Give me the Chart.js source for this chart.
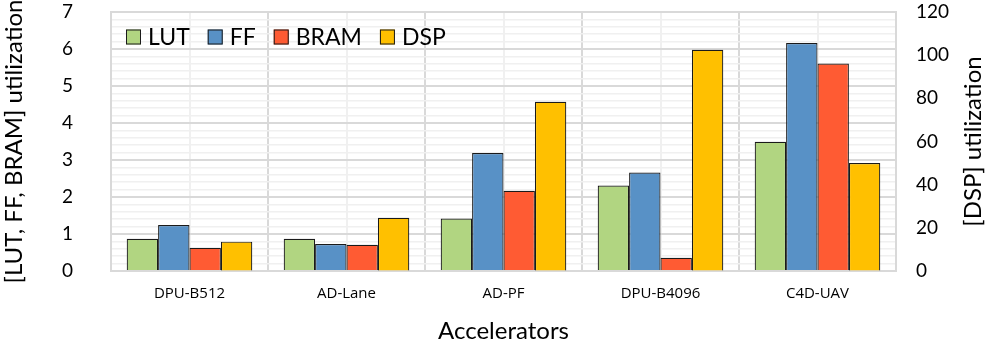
<!DOCTYPE html>
<html lang="en">
<head>
    <meta charset="UTF-8">
    <title>FPGA resource utilization</title>
    <script src="https://cdn.jsdelivr.net/npm/chart.js"></script>
    <style>
        html, body {
            margin: 0;
            padding: 0;
            background: #ffffff;
        }
        #wrap {
            width: 991px;
            height: 350px;
        }
    </style>
</head>
<body>
    <div id="wrap"><canvas id="chart" width="991" height="350"></canvas></div>

    <script>
        // data
        const accelerators = ['DPU-B512', 'AD-Lane', 'AD-PF', 'DPU-B4096', 'C4D-UAV'];
        const lutUtil  = [0.87, 0.87, 1.42, 2.31, 3.49];
        const ffUtil   = [1.24, 0.73, 3.19, 2.66, 6.16];
        const bramUtil = [0.63, 0.71, 2.17, 0.36, 5.61];
        const dspUtil  = [13.6, 24.7, 78.4, 102.5, 50.0];   // right axis
        const leftTicks  = [0, 1, 2, 3, 4, 5, 6, 7];
        const rightTicks = [0, 20, 40, 60, 80, 100, 120];

        const tickFont = { family: 'Lato', size: 19 };
        const titleFont = { family: 'Lato', size: 24 };

        function bar(label, data, color, axis) {
            return {
                label: label,
                data: data,
                backgroundColor: color,
                borderColor: '#1a1a1a',
                borderWidth: 1.2,
                yAxisID: axis,
                categoryPercentage: 0.8,
                barPercentage: 1.0
            };
        }

        const isWhole = v => Math.abs(v - Math.round(v)) < 1e-6;

        // legend drawn inside the plot, in one row at the top left
        const insideLegend = {
            id: 'insideLegend',
            afterDraw(chart) {
                const ctx = chart.ctx;
                const area = chart.chartArea;
                let x = area.left + 15;
                const cy = area.top + 25;
                ctx.save();
                ctx.font = '23px Lato';
                ctx.textBaseline = 'middle';
                chart.data.datasets.forEach(ds => {
                    ctx.fillStyle = ds.backgroundColor;
                    ctx.fillRect(x, cy - 7.5, 15, 15);
                    ctx.strokeStyle = '#1a1a1a';
                    ctx.lineWidth = 1;
                    ctx.strokeRect(x + 0.5, cy - 7, 14, 14);
                    ctx.fillStyle = '#000';
                    ctx.fillText(ds.label, x + 22, cy + 1);
                    x += 22 + ctx.measureText(ds.label).width + 18;
                });
                ctx.restore();
            }
        };

        // right title reads bottom to top, like the left one
        const rightTitle = {
            id: 'rightTitle',
            afterDraw(chart) {
                const ctx = chart.ctx;
                const area = chart.chartArea;
                ctx.save();
                ctx.translate(973, (area.top + area.bottom) / 2);
                ctx.rotate(-Math.PI / 2);
                ctx.font = '24px Lato';
                ctx.fillStyle = '#000';
                ctx.textAlign = 'center';
                ctx.textBaseline = 'middle';
                ctx.fillText('[DSP] utilization', 0, 0);
                ctx.restore();
            }
        };

        // fixed box sizes so the plot area lands where it is in the picture
        function fixV(width) {
            return s => {
                s.width = width;
                s.paddingTop = 0;
                s.paddingBottom = 0;
            };
        }

        new Chart(document.getElementById('chart'), {
            type: 'bar',
            data: {
                labels: accelerators,
                datasets: [
                    bar('LUT', lutUtil, '#b1d581', 'y'),
                    bar('FF', ffUtil, '#5891c6', 'y'),
                    bar('BRAM', bramUtil, '#ff5b33', 'y'),
                    bar('DSP', dspUtil, '#ffc000', 'y2')
                ]
            },
            plugins: [insideLegend, rightTitle],
            options: {
                responsive: false,
                animation: false,
                layout: { padding: { left: 0, right: 0, top: 12, bottom: 0 } },
                plugins: {
                    tooltip: { enabled: false },
                    legend: { display: false }
                },
                scales: {
                    x: {
                        grid: { color: '#d9d9d9', lineWidth: 2, offset: true, drawTicks: false },
                        border: { color: '#d9d9d9', width: 2 },
                        ticks: { font: { family: 'Open Sans', size: 15 }, color: '#000', padding: 14 },
                        title: { display: true, text: 'Accelerators', font: titleFont, color: '#000', padding: { top: 8 } },
                        afterFit: s => { s.height = 79; }
                    },
                    xMid: {
                        position: 'bottom',
                        display: true,
                        offset: true,
                        grid: { color: '#f0f0f0', lineWidth: 2, offset: false, drawTicks: false },
                        border: { display: false },
                        ticks: { display: false },
                        afterFit: s => { s.height = 0; }
                    },
                    y: {
                        position: 'left',
                        min: 0,
                        max: 7,
                        grid: {
                            color: c => isWhole(c.tick.value) ? '#d9d9d9' : '#f0f0f0',
                            lineWidth: c => isWhole(c.tick.value) ? 2 : 1.5,
                            drawTicks: false
                        },
                        border: { color: '#d9d9d9', width: 2 },
                        ticks: {
                            stepSize: 0.2,
                            maxTicksLimit: 100,
                            autoSkip: false,
                            font: tickFont,
                            color: '#000',
                            padding: 38,
                            callback: v => leftTicks.includes(Math.round(v)) && isWhole(v) ? String(Math.round(v)) : ''
                        },
                        title: { display: true, text: '[LUT, FF, BRAM] utilization', font: titleFont, color: '#000', padding: 0 },
                        afterFit: fixV(111)
                    },
                    y2: {
                        position: 'right',
                        min: 0,
                        max: 120,
                        grid: { drawOnChartArea: false, drawTicks: false },
                        border: { color: '#d9d9d9', width: 2 },
                        ticks: {
                            stepSize: 20,
                            font: tickFont,
                            color: '#000',
                            padding: 20,
                            callback: v => rightTicks.includes(v) ? String(v) : ''
                        },
                        afterFit: fixV(95)
                    }
                }
            }
        });
    </script>
</body>
</html>
